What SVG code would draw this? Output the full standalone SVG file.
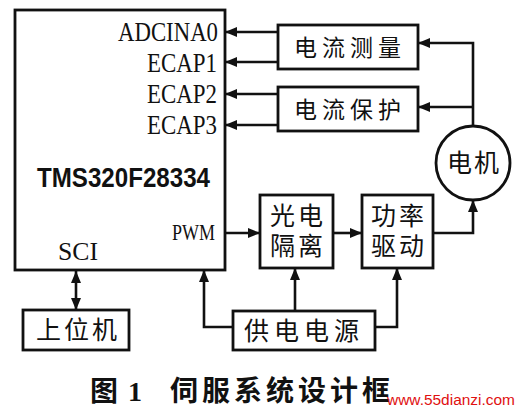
<svg xmlns="http://www.w3.org/2000/svg" width="520" height="411" viewBox="0 0 520 411">
<style>
.box{fill:#fff;stroke:#111;stroke-width:2.8}
.ln{fill:none;stroke:#111;stroke-width:2.6}
.cn{font-family:"Noto Sans CJK SC","Noto Sans CJK JP",sans-serif;fill:#111}
.pin{font-family:"Liberation Serif","Times New Roman",serif;fill:#111}
</style>
<defs>
<marker id="ah" viewBox="0 0 12 10" refX="12" refY="5" markerWidth="12" markerHeight="10" markerUnits="userSpaceOnUse" orient="auto-start-reverse">
<path d="M0,0 L12,5 L0,10 Z" fill="#111"/>
</marker>
</defs>
<rect width="520" height="411" fill="#fff"/>

<g id="dsp">
<rect class="box" x="15" y="10" width="210" height="260"/>
<text class="pin" x="118" y="41" font-size="27" textLength="100" lengthAdjust="spacingAndGlyphs">ADCINA0</text>
<text class="pin" x="147" y="72" font-size="27" textLength="70" lengthAdjust="spacingAndGlyphs">ECAP1</text>
<text class="pin" x="147" y="103" font-size="27" textLength="70" lengthAdjust="spacingAndGlyphs">ECAP2</text>
<text class="pin" x="147" y="134" font-size="27" textLength="70" lengthAdjust="spacingAndGlyphs">ECAP3</text>
<text x="37" y="187" font-family="Liberation Sans,Arial,sans-serif" font-weight="bold" font-size="27" fill="#111" textLength="173" lengthAdjust="spacingAndGlyphs">TMS320F28334</text>
<text class="pin" x="172" y="240" font-size="23" textLength="43" lengthAdjust="spacingAndGlyphs">PWM</text>
<text class="pin" x="58" y="260" font-size="25" textLength="40" lengthAdjust="spacingAndGlyphs">SCI</text>
</g>

<g id="measure">
<rect class="box" x="278" y="25" width="140" height="44"/>
<text class="cn" x="350" y="56" font-size="23" letter-spacing="5" text-anchor="middle">电流测量</text>
</g>

<g id="protect">
<rect class="box" x="278" y="87" width="140" height="44"/>
<text class="cn" x="350" y="118" font-size="23" letter-spacing="5" text-anchor="middle">电流保护</text>
</g>

<g id="motor">
<circle cx="473" cy="163" r="37" fill="#fff" stroke="#111" stroke-width="2.8"/>
<text class="cn" x="474" y="172" font-size="25" letter-spacing="2" text-anchor="middle">电机</text>
</g>

<g id="opto">
<rect class="box" x="260" y="195" width="73" height="73"/>
<text class="cn" font-size="25" letter-spacing="3" text-anchor="middle"><tspan x="298" y="225">光电</tspan><tspan x="298" y="255">隔离</tspan></text>
</g>

<g id="driver">
<rect class="box" x="362" y="195" width="71" height="73"/>
<text class="cn" font-size="25" letter-spacing="3" text-anchor="middle"><tspan x="399" y="225">功率</tspan><tspan x="399" y="255">驱动</tspan></text>
</g>

<g id="power">
<rect class="box" x="233" y="311" width="142" height="39"/>
<text class="cn" x="304" y="340" font-size="25" letter-spacing="5" text-anchor="middle">供电电源</text>
</g>

<g id="host">
<rect class="box" x="23" y="310" width="106" height="40"/>
<text class="cn" x="78" y="339" font-size="25" letter-spacing="3" text-anchor="middle">上位机</text>
</g>

<g id="connectors">
<path class="ln" d="M278,32 H225" marker-end="url(#ah)"/>
<path class="ln" d="M278,62 H225" marker-end="url(#ah)"/>
<path class="ln" d="M278,94 H225" marker-end="url(#ah)"/>
<path class="ln" d="M278,125 H225" marker-end="url(#ah)"/>
<path class="ln" d="M473,126 V43 H418" marker-end="url(#ah)"/>
<path class="ln" d="M473,107 H418" marker-end="url(#ah)"/>
<path class="ln" d="M225,233 H260" marker-end="url(#ah)"/>
<path class="ln" d="M333,233 H362" marker-end="url(#ah)"/>
<path class="ln" d="M433,233 H473 V200" marker-end="url(#ah)"/>
<path class="ln" d="M295,311 V268" marker-end="url(#ah)"/>
<path class="ln" d="M375,327 H397 V268" marker-end="url(#ah)"/>
<path class="ln" d="M233,327 H204 V270" marker-end="url(#ah)"/>
<path class="ln" d="M76,271 V310" marker-start="url(#ah)" marker-end="url(#ah)"/>
</g>

<g id="caption">
<text class="cn" x="90" y="401" font-size="28" font-weight="bold">图</text>
<text x="128" y="401" font-family="Liberation Serif,serif" font-weight="bold" font-size="28" fill="#111">1</text>
<text class="cn" x="170" y="401" font-size="28" font-weight="bold" letter-spacing="4">伺服系统设计框</text>
<text x="387" y="405" font-family="Liberation Sans,Arial,sans-serif" font-size="15.5" fill="#e01010" textLength="128" lengthAdjust="spacingAndGlyphs">www.55dianzi.com</text>
</g>
</svg>
